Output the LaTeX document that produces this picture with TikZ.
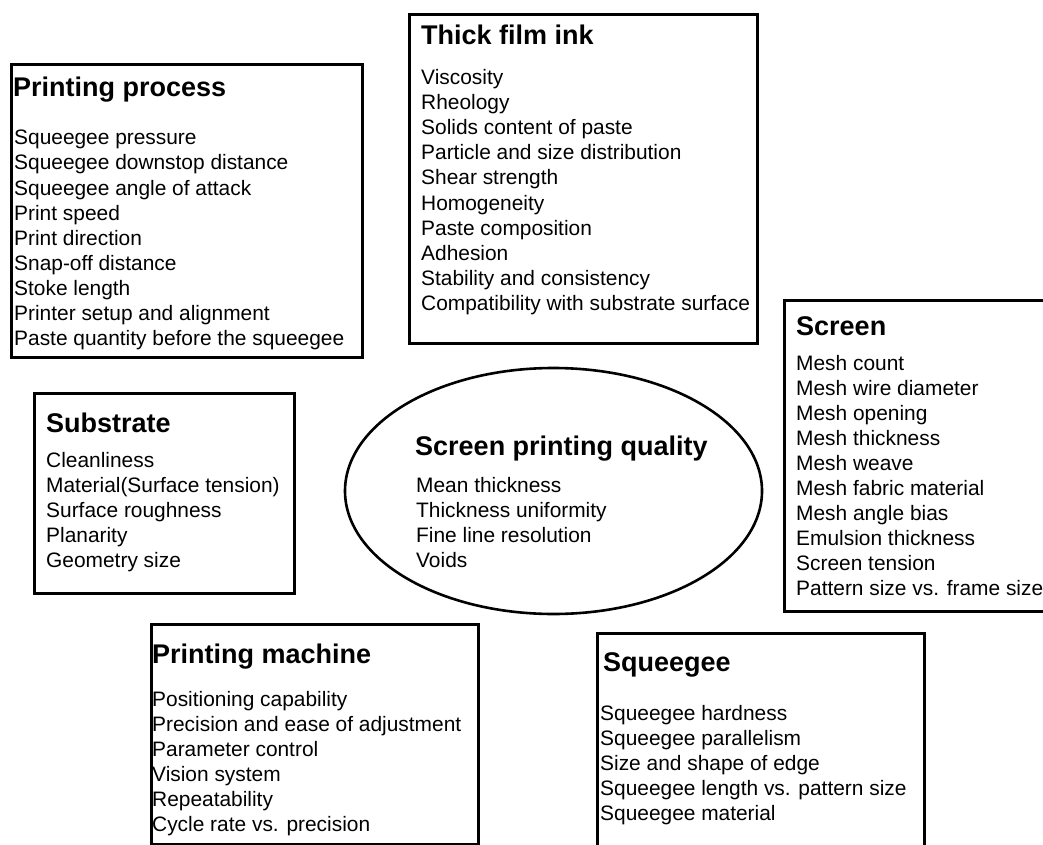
\documentclass[tikz,border=0pt]{standalone}
\usepackage{fontspec}
\setmainfont{Liberation Sans}
\usetikzlibrary{shapes.geometric}
\tikzset{
  box/.style={draw=black, line width=3pt, rectangle, inner sep=0pt, anchor=north west},
  qual/.style={draw=black, line width=2.6pt, ellipse, inner sep=0pt},
  ttl/.style={anchor=base west, inner sep=0pt, font=\fontsize{27}{32}\selectfont\bfseries},
  item/.style={anchor=base west, inner sep=0pt, font=\fontsize{20.9}{25}\selectfont},
}
\newcommand\itemlines[4]{%
  \foreach \txt [count=\i] in {#4} {\node[item] (#1\i) at (#2, {#3+25*(\i-1)}) {\txt};}}
\begin{document}
\begin{tikzpicture}[x=1pt, y=-1pt]
\useasboundingbox[fill=white] (0,0) rectangle (1043,845);

% Printing process
\node[box, minimum width=351pt, minimum height=293pt] (ppbox) at (10,63) {};
\node[ttl] (pptitle) at (13,97) {Printing process};
\itemlines{pp}{14}{145}{Squeegee pressure,Squeegee downstop distance,Squeegee angle of attack,Print speed,Print direction,Snap-off distance,Stoke length,Printer setup and alignment,Paste quantity before the squeegee}

% Thick film ink
\node[box, minimum width=348pt, minimum height=329pt] (tfbox) at (408,13) {};
\node[ttl] (tftitle) at (421,45) {Thick film ink};
\itemlines{tf}{421}{85}{Viscosity,Rheology,Solids content of paste,Particle and size distribution,Shear strength,Homogeneity,Paste composition,Adhesion,Stability and consistency,Compatibility with substrate surface}

% Screen
\node[box, minimum width=267pt, minimum height=311pt] (scbox) at (783,299) {};
\node[ttl] (sctitle) at (796,335) {Screen};
\itemlines{sc}{796}{370}{Mesh count,Mesh wire diameter,Mesh opening,Mesh thickness,Mesh weave,Mesh fabric material,Mesh angle bias,Emulsion thickness,Screen tension,Pattern size vs. frame size}

% Substrate
\node[box, minimum width=260pt, minimum height=200pt] (subbox) at (33,392) {};
\node[ttl] (subtitle) at (46,432) {Substrate};
\itemlines{sub}{46}{467}{Cleanliness,Material(Surface tension),Surface roughness,Planarity,Geometry size}

% Screen printing quality
\node[qual, minimum width=417pt, minimum height=246pt] (qual) at (553.5,491) {};
\node[ttl] (qtitle) at (415,455) {Screen printing quality};
\itemlines{q}{416}{492}{Mean thickness,Thickness uniformity,Fine line resolution,Voids}

% Printing machine
\node[box, minimum width=327pt, minimum height=220pt] (pmbox) at (150,623) {};
\node[ttl] (pmtitle) at (152,663) {Printing machine};
\itemlines{pm}{152}{706}{Positioning capability,Precision and ease of adjustment,Parameter control,Vision system,Repeatability,Cycle rate vs. precision}

% Squeegee
\node[box, minimum width=327pt, minimum height=228pt] (sqbox) at (596,632) {};
\node[ttl] (sqtitle) at (603,671) {Squeegee};
\itemlines{sq}{600}{720}{Squeegee hardness,Squeegee parallelism,Size and shape of edge,Squeegee length vs. pattern size,Squeegee material}
\end{tikzpicture}
\end{document}
